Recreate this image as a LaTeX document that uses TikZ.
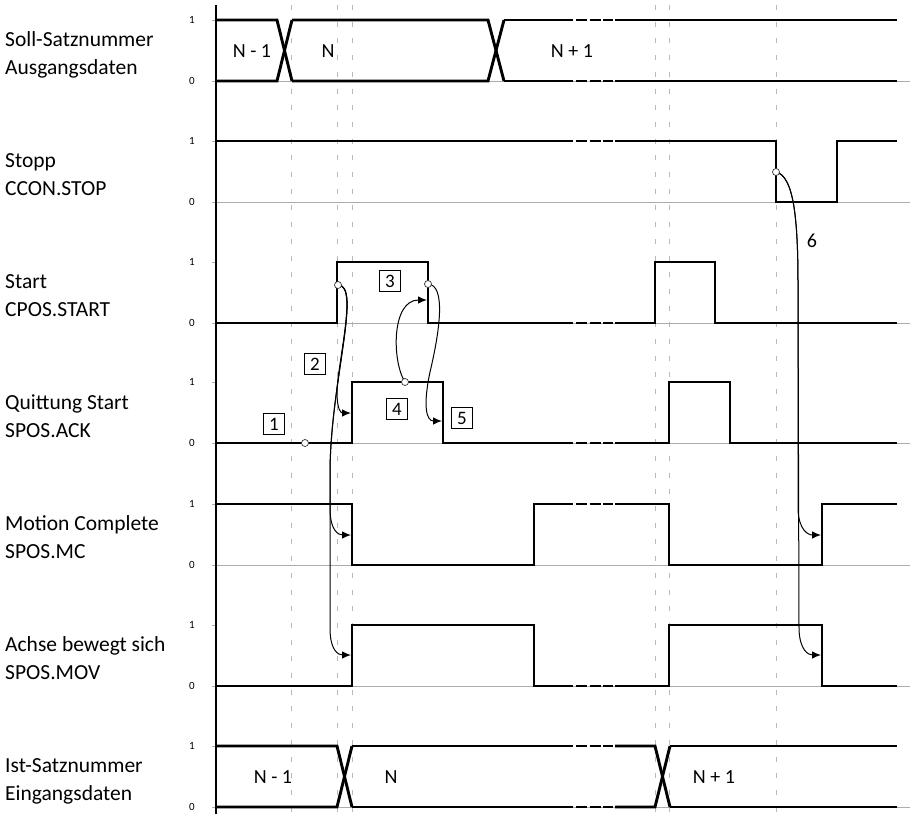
\documentclass[tikz,border=0pt]{standalone}
\usepackage{fontspec}
\setmainfont{Carlito}
\usetikzlibrary{arrows.meta}
\begin{document}
\begin{tikzpicture}[x=1pt,y=-1pt,
 sig/.style={line width=2.9pt, line join=miter},
 brk/.style={line width=2.9pt, dash pattern=on 11pt off 2.5pt},
 vgrid/.style={gray!55, line width=0.9pt, dash pattern=on 5pt off 11.7pt},
 baseln/.style={gray!65, line width=0.8pt},
 tickln/.style={gray!65, line width=1pt},
 lbl/.style={anchor=base west, font=\fontsize{21.5}{21.5}\selectfont, inner sep=0pt},
 ticklbl/.style={font=\fontsize{11}{11}\selectfont, inner sep=0pt},
 buslbl/.style={font=\fontsize{20}{20}\selectfont, inner sep=0pt},
 numbox/.style={draw, line width=0.8pt, minimum width=21pt, minimum height=21pt, inner sep=0pt, font=\fontsize{19}{19}\selectfont},
 dot/.style={circle, draw=black!80, fill=white, line width=0.7pt, minimum size=7pt, inner sep=0pt},
 arr/.style={line width=1pt, -{Latex[length=9pt,width=7.5pt]}}
]
\useasboundingbox (0,0) rectangle (913,814);

% dashed vertical guides
\foreach \x in {291,337,352,655,669,776}
  \draw[vgrid] (\x,5) -- (\x,814);

% grey zero baselines and ticks
\foreach \t in {20,141,262,382,504,625,746}{
  \draw[baseln] (216,\t+61) -- (910,\t+61);
  \draw[tickln] (212,\t) -- (216,\t);
  \draw[tickln] (212,\t+61) -- (216,\t+61);
}
\foreach \t/\n in {20/a,141/b,262/c,382/d,504/e,625/f,746/g}{
  \node[ticklbl] (one\n) at (192,\t) {1};
  \node[ticklbl] (zero\n) at (192,\t+61) {0};
}

% axis
\draw[line width=1.3pt] (216,5) -- (216,814);

% row labels
\node[lbl] (l1a) at (5,46) {Soll-Satznummer};
\node[lbl] (l1b) at (5,74) {Ausgangsdaten};
\node[lbl] (l2a) at (5,167) {Stopp};
\node[lbl] (l2b) at (5,195) {CCON.STOP};
\node[lbl] (l3a) at (5,288) {Start};
\node[lbl] (l3b) at (5,316) {CPOS.START};
\node[lbl] (l4a) at (5,409) {Quittung Start};
\node[lbl] (l4b) at (5,437) {SPOS.ACK};
\node[lbl] (l5a) at (5,530) {Motion Complete};
\node[lbl] (l5b) at (5,558) {SPOS.MC};
\node[lbl] (l6a) at (5,651) {Achse bewegt sich};
\node[lbl] (l6b) at (5,679) {SPOS.MOV};
\node[lbl] (l7a) at (5,772) {Ist-Satznummer};
\node[lbl] (l7b) at (5,800) {Eingangsdaten};

% Row 1 bus
\draw[sig] (216,20) -- (277,20) -- (292,81);
\draw[sig] (216,81) -- (277,81) -- (292,20);
\draw[sig] (292,20) -- (488,20) -- (504,81);
\draw[sig] (292,81) -- (488,81) -- (504,20);
\draw[sig] (504,20) -- (573,20);
\draw[sig] (504,81) -- (573,81);
\draw[brk] (576,20) -- (613,20);
\draw[brk] (576,81) -- (613,81);
\draw[sig] (615,20) -- (897,20);
\draw[sig] (615,81) -- (897,81);
\node[buslbl] (b1) at (252,51) {N - 1};
\node[buslbl] (b2) at (328,51) {N};
\node[buslbl] (b3) at (572,51) {N + 1};

% Row 2 Stopp
\draw[sig] (216,141) -- (573,141);
\draw[brk] (576,141) -- (613,141);
\draw[sig] (615,141) -- (776,141) -- (776,202) -- (837,202) -- (837,141) -- (897,141);

% Row 3 Start
\draw[sig] (216,323) -- (337,323) -- (337,262) -- (428,262) -- (428,323) -- (573,323);
\draw[brk] (576,323) -- (613,323);
\draw[sig] (615,323) -- (655,323) -- (655,262) -- (715,262) -- (715,323) -- (897,323);

% Row 4 Ack
\draw[sig] (216,443) -- (352,443) -- (352,382) -- (443,382) -- (443,443) -- (573,443);
\draw[brk] (576,443) -- (613,443);
\draw[sig] (615,443) -- (669,443) -- (669,382) -- (730,382) -- (730,443) -- (897,443);

% Row 5 MC
\draw[sig] (216,504) -- (352,504) -- (352,565) -- (534,565) -- (534,504) -- (573,504);
\draw[brk] (576,504) -- (613,504);
\draw[sig] (615,504) -- (669,504) -- (669,565) -- (822,565) -- (822,504) -- (897,504);

% Row 6 MOV
\draw[sig] (216,686) -- (352,686) -- (352,625) -- (534,625) -- (534,686) -- (573,686);
\draw[brk] (576,686) -- (613,686);
\draw[sig] (615,686) -- (669,686) -- (669,625) -- (822,625) -- (822,686) -- (897,686);

% Row 7 bus
\draw[sig] (216,746) -- (337,746) -- (352,807);
\draw[sig] (216,807) -- (337,807) -- (352,746);
\draw[sig] (352,746) -- (573,746);
\draw[sig] (352,807) -- (573,807);
\draw[brk] (576,746) -- (613,746);
\draw[brk] (576,807) -- (613,807);
\draw[sig] (615,746) -- (655,746) -- (670,807);
\draw[sig] (615,807) -- (655,807) -- (670,746);
\draw[sig] (670,746) -- (897,746);
\draw[sig] (670,807) -- (897,807);
\node[buslbl] (b4) at (273,777) {N - 1};
\node[buslbl] (b5) at (391,777) {N};
\node[buslbl] (b6) at (714,777) {N + 1};

% numbered boxes
\node[numbox] (n1) at (274,424) {1};
\node[numbox] (n2) at (315,364) {2};
\node[numbox] (n3) at (390,281) {3};
\node[numbox] (n4) at (397,409) {4};
\node[numbox] (n5) at (462,418) {5};
\node[buslbl] (n6) at (812,241) {6};

% target coordinates
\coordinate (t1) at (351,413);
\coordinate (t2) at (351,535);
\coordinate (t3) at (351,655);
\coordinate (t4) at (427,300);
\coordinate (t5) at (442,421);
\coordinate (t6) at (821,535);
\coordinate (t7) at (821,655);

% connectors (drawn before the dots)
\coordinate (c2p) at (338,285);
\coordinate (c3p) at (428,284);
\coordinate (c4p) at (405,382);
\coordinate (c5p) at (776,172);
\draw[arr] (c2p) .. controls (358,284) and (338,360) .. (337,392) .. controls (337,410) and (341,413) .. (t1);
\draw[arr] (c2p) .. controls (362,285) and (331,380) .. (330,470) -- (330,508) .. controls (330,530) and (338,535) .. (t2);
\draw[arr] (c2p) .. controls (362,285) and (331,380) .. (330,470) -- (330,628) .. controls (330,650) and (338,655) .. (t3);
\draw[arr] (c4p) .. controls (392,362) and (391,300) .. (t4);
\draw[arr] (c3p) .. controls (446,285) and (440,330) .. (430,372) .. controls (423,405) and (426,421) .. (t5);
\draw[arr] (c5p) .. controls (794,176) and (798,220) .. (798,285) -- (798,510) .. controls (799,530) and (808,535) .. (t6);
\draw[arr] (c5p) .. controls (794,176) and (798,220) .. (798,285) -- (799,630) .. controls (800,650) and (808,655) .. (t7);

% dots
\node[dot] (c1) at (305,443) {};
\node[dot] (c2) at (c2p) {};
\node[dot] (c3) at (c3p) {};
\node[dot] (c4) at (c4p) {};
\node[dot] (c5) at (c5p) {};
\end{tikzpicture}
\end{document}
